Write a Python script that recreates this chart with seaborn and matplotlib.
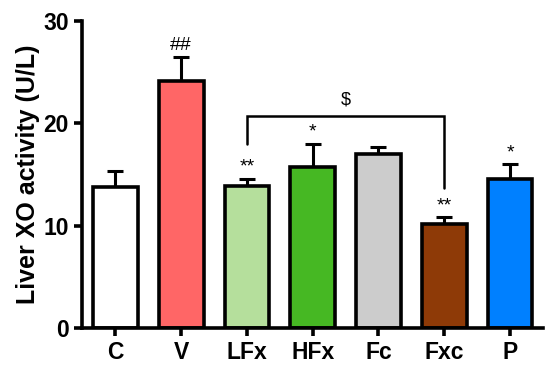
import numpy as np
import pandas as pd
import matplotlib
matplotlib.use("Agg")
import matplotlib.pyplot as plt
import seaborn as sns

groups = ["C", "V", "LFx", "HFx", "Fc", "Fxc", "P"]
means = [13.8, 24.1, 13.9, 15.7, 17.0, 10.2, 14.6]
sems = [1.5, 2.4, 0.7, 2.3, 0.7, 0.6, 1.4]
colors = ["#FFFFFF", "#FF6666", "#B5DF9C", "#46B823", "#CCCCCC", "#8E3A07", "#0080FF"]
marks = ["", "##", "**", "*", "", "**", "*"]

sns.set_style("ticks", {"axes.edgecolor": "black", "xtick.color": "black",
                        "ytick.color": "black", "text.color": "black",
                        "axes.labelcolor": "black"})
plt.rcParams["font.family"] = ["Liberation Sans", "DejaVu Sans"]

df = pd.DataFrame({"group": groups, "mean": means})

fig = plt.figure(figsize=(5.5, 3.68), dpi=100)
ax = fig.add_axes([0.149, 0.109, 0.838, 0.834])

sns.barplot(data=df, x="group", y="mean", hue="group", palette=colors,
            saturation=1, legend=False, width=0.68, edgecolor="black",
            linewidth=2.6, errorbar=None, ax=ax, zorder=2)

x = np.arange(len(groups))
ax.errorbar(x, means, yerr=[np.zeros(len(sems)), sems], fmt="none",
            ecolor="black", elinewidth=2.2, capsize=6, capthick=2.2, zorder=1)

# significance marks above error bars
for xi, m, s, t in zip(x, means, sems, marks):
    if t:
        ax.text(xi, m + s + 0.3, t, ha="center", va="bottom", fontsize=14)

# bracket between LFx and Fxc
ax.plot([2, 2, 5, 5], [18.0, 20.7, 20.7, 13.7], color="black", lw=1.8,
        solid_joinstyle="miter")
ax.text(3.5, 21.4, "$", ha="center", va="bottom", fontsize=13)

ax.set_ylim(0, 30)
ax.set_xlim(-0.51, 6.5)
ax.set_yticks([0, 10, 20, 30])
ax.set_xlabel("")
ax.set_ylabel("Liver XO activity (U/L)", fontsize=18, fontweight="bold", labelpad=2)
ax.tick_params(axis="both", width=2.6, length=6, labelsize=16.5, colors="black")
for lab in ax.get_xticklabels() + ax.get_yticklabels():
    lab.set_fontweight("bold")
for side in ["left", "bottom"]:
    ax.spines[side].set_linewidth(2.6)
sns.despine(ax=ax)

fig.savefig("out.png", dpi=100)
